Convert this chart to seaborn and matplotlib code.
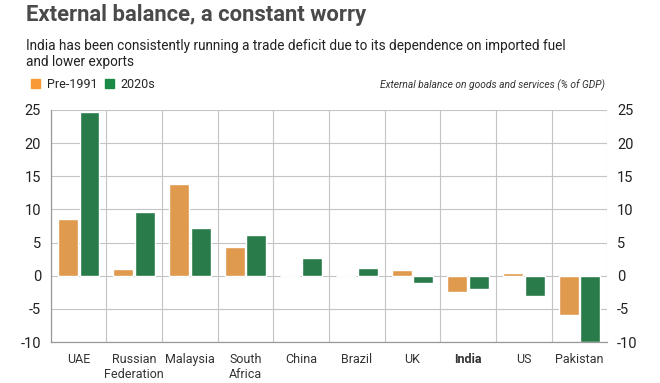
import matplotlib
matplotlib.use("Agg")
import matplotlib.pyplot as plt
import matplotlib.patches as mpatches
import pandas as pd
import seaborn as sns

countries = ["UAE", "Russian\nFederation", "Malaysia", "South\nAfrica", "China",
             "Brazil", "UK", "India", "US", "Pakistan"]
pre_1991 = [8.6, 1.0, 13.9, 4.4, -0.1, 0.0, 0.9, -2.4, 0.4, -6.0]
in_2020s = [24.7, 9.6, 7.2, 6.2, 2.7, 1.1, -1.1, -2.0, -3.0, -10.0]
series = ["Pre-1991", "2020s"]
colors = ["#F89B36", "#1B8A47"]
y_ticks = [-10, -5, 0, 5, 10, 15, 20, 25]

df = pd.DataFrame({
    "country": countries * 2,
    "period": [series[0]] * len(countries) + [series[1]] * len(countries),
    "value": pre_1991 + in_2020s,
})

sns.set_style("white")
plt.rcParams["font.family"] = ["Roboto", "DejaVu Sans"]

fig = plt.figure(figsize=(6.6, 3.83), dpi=100)
ax = fig.add_axes([0.077, 0.107, 0.843, 0.606])

sns.barplot(data=df, x="country", y="value", hue="period", palette=colors,
            width=0.78, gap=0.08, ax=ax, legend=False)

ax.set_ylim(-10, 25)
ax.set_xlim(-0.5, len(countries) - 0.5)
ax.set_yticks(y_ticks)
ax.set_yticklabels([str(t) for t in y_ticks], fontsize=10.5, color="#222222")
ax.set_xlabel("")
ax.set_ylabel("")
ax.tick_params(axis="x", length=0, pad=8, labelsize=9, labelcolor="#333333")
ax.tick_params(axis="y", length=0, pad=7)
for lbl in ax.get_xticklabels():
    if lbl.get_text() == "India":
        lbl.set_fontweight("bold")

ax.set_axisbelow(True)
ax.yaxis.grid(True, color="#C4C4C4", linewidth=0.8)
for b in range(len(countries) + 1):
    ax.axvline(b - 0.5, color="#C4C4C4", linewidth=0.8, zorder=0)
for s in ["top", "right"]:
    ax.spines[s].set_visible(False)
for s in ["left", "bottom"]:
    ax.spines[s].set_color("#999999")
    ax.spines[s].set_linewidth(0.9)

ax2 = ax.twinx()
ax2.set_ylim(ax.get_ylim())
ax2.set_yticks(y_ticks)
ax2.set_yticklabels([str(t) for t in y_ticks], fontsize=10.5, color="#222222")
ax2.tick_params(axis="y", length=0, pad=7)
for s in ax2.spines.values():
    s.set_visible(False)

fig.text(0.040, 0.960, "External balance, a constant worry", fontsize=15.8,
         fontweight="bold", color="#4A4A4A", va="center")
fig.text(0.040, 0.858, "India has been consistently running a trade deficit due to its "
         "dependence on imported fuel\nand lower exports", fontsize=9.8,
         color="#222222", va="center", linespacing=1.2)

handles = [mpatches.Patch(color=c, label=s) for c, s in zip(colors, series)]
fig.legend(handles=handles, loc="center left", bbox_to_anchor=(0.030, 0.780),
           ncol=2, frameon=False, fontsize=9, handlelength=0.75,
           handleheight=0.75, handletextpad=0.5, columnspacing=0.6)
fig.text(0.917, 0.778, "External balance on goods and services (% of GDP)",
         fontsize=7.4, style="italic", color="#333333", ha="right", va="center")

fig.savefig("out.png", dpi=100)
